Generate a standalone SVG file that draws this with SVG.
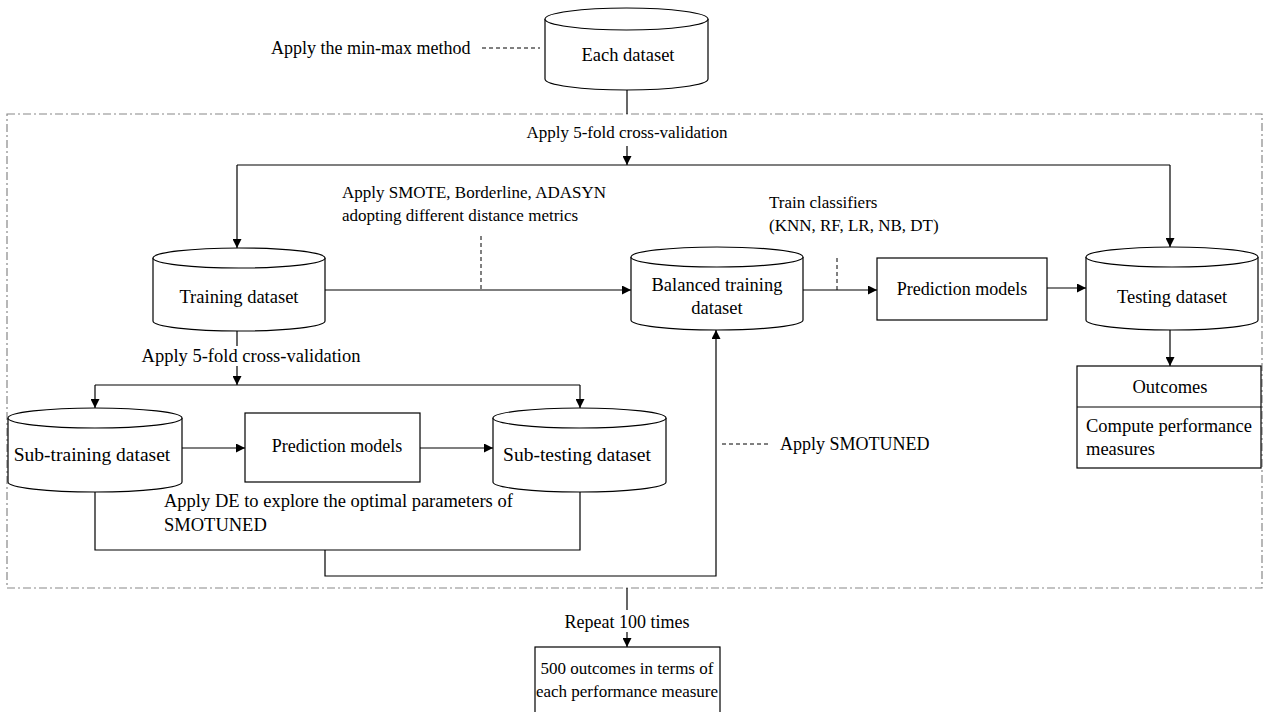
<svg xmlns="http://www.w3.org/2000/svg" width="1266" height="712" viewBox="0 0 1266 712">
<defs>
<marker id="arr" viewBox="0 0 10 10" refX="10" refY="5" markerWidth="9" markerHeight="9" markerUnits="userSpaceOnUse" orient="auto">
<path d="M0,0 L10,5 L0,10 z" fill="#000"/>
</marker>
</defs>
<style>
text{font-family:"Liberation Serif","Times New Roman",serif;font-size:18.5px;fill:#000}
.c{text-anchor:middle}
.m{font-size:17px}
.n{font-size:18px}
.g{font-size:19.5px}
.s{fill:#fff;stroke:#000;stroke-width:1.2}
.l{fill:none;stroke:#000;stroke-width:1.2}
.a{marker-end:url(#arr)}
.d{fill:none;stroke:#000;stroke-width:1;stroke-dasharray:4,3}
.b{fill:none;stroke:#888;stroke-width:1.2;stroke-dasharray:8,3,2,3}
</style>
<rect width="1266" height="712" fill="#fff"/>
<rect class="b" x="7" y="114" width="1255" height="474"/>
<g id="connectors">
<path class="l" d="M627,90 V114"/>
<path class="l a" d="M627,146 V165"/>
<path class="l" d="M237,165 H1170"/>
<path class="l a" d="M237,165 V248"/>
<path class="l a" d="M1170,165 V247"/>
<path class="l a" d="M325,290 H631"/>
<path class="d" d="M481,236 V290"/>
<path class="l a" d="M803,290 H877"/>
<path class="d" d="M837,258 V290"/>
<path class="l a" d="M1047,288 H1086"/>
<path class="l a" d="M1170,330 V366"/>
<path class="l" d="M237,331 V346"/>
<path class="l a" d="M237,366 V385"/>
<path class="l" d="M95,385 H580"/>
<path class="l a" d="M95,385 V408"/>
<path class="l a" d="M580,385 V408"/>
<path class="l a" d="M182,448 H245"/>
<path class="l a" d="M420,448 H493"/>
<path class="l" d="M95,492 V550 H580 V492"/>
<path class="l a" d="M325,550 V576 H716 V330"/>
<path class="d" d="M722,444 H770"/>
<path class="d" d="M482,48 H540"/>
<path class="l" d="M627,588 V610"/>
<path class="l a" d="M627,632 V647"/>
</g>
<g id="each-dataset">
<path class="s" d="M545,19 V79 A81.5,11 0 0 0 708,79 V19"/>
<ellipse class="s" cx="626.5" cy="19" rx="81.5" ry="11"/>
<text class="c" x="628" y="61">Each dataset</text>
</g>
<text class="n" x="271" y="54">Apply the min-max method</text>
<text class="c m" x="627" y="138">Apply 5-fold cross-validation</text>
<g id="training">
<path class="s" d="M153,258 V321 A86,10 0 0 0 325,321 V258"/>
<ellipse class="s" cx="239" cy="258" rx="86" ry="10"/>
<text class="c" x="239" y="303">Training  dataset</text>
</g>
<text class="m" x="342" y="198">Apply SMOTE, Borderline, ADASYN</text>
<text class="m" x="342" y="221">adopting different distance metrics</text>
<g id="balanced">
<path class="s" d="M631,257 V320 A86,10 0 0 0 803,320 V257"/>
<ellipse class="s" cx="717" cy="257" rx="86" ry="10"/>
<text class="c" x="717" y="291">Balanced training</text>
<text class="c" x="717" y="314">dataset</text>
</g>
<text class="m" x="769" y="208">Train classifiers</text>
<text class="m" x="769" y="231">(KNN, RF, LR, NB, DT)</text>
<g id="prediction-models">
<rect class="s" x="877" y="258" width="170" height="62"/>
<text class="c n" x="962" y="295">Prediction models</text>
</g>
<g id="testing">
<path class="s" d="M1086,257 V320 A86,10 0 0 0 1258,320 V257"/>
<ellipse class="s" cx="1172" cy="257" rx="86" ry="10"/>
<text class="c" x="1172" y="303">Testing dataset</text>
</g>
<g id="outcomes">
<rect class="s" x="1077" y="366" width="184" height="102"/>
<path class="l" d="M1077,407 H1261"/>
<text class="c" x="1170" y="393">Outcomes</text>
<text x="1086" y="432">Compute performance</text>
<text x="1086" y="455">measures</text>
</g>
<text class="c" x="251" y="362">Apply 5-fold cross-validation</text>
<g id="sub-training">
<path class="s" d="M8,418 V482 A87,10 0 0 0 182,482 V418"/>
<ellipse class="s" cx="95" cy="418" rx="87" ry="10"/>
<text class="c g" x="92" y="461">Sub-training  dataset</text>
</g>
<g id="prediction-models-2">
<rect class="s" x="245" y="413" width="175" height="69"/>
<text class="c n" x="337" y="452">Prediction models</text>
</g>
<g id="sub-testing">
<path class="s" d="M493,418 V482 A86.5,10 0 0 0 666,482 V418"/>
<ellipse class="s" cx="579.5" cy="418" rx="86.5" ry="10"/>
<text class="c g" x="577" y="461">Sub-testing dataset</text>
</g>
<text x="164" y="507">Apply DE to explore the optimal parameters of</text>
<text x="164" y="531">SMOTUNED</text>
<text class="n" x="780" y="450">Apply SMOTUNED</text>
<text class="c n" x="627" y="628">Repeat 100 times</text>
<g id="final">
<rect class="s" x="535" y="647" width="185" height="70"/>
<text class="c m" x="627" y="674">500 outcomes in terms of</text>
<text class="c m" x="627" y="697">each performance measure</text>
</g>
</svg>
